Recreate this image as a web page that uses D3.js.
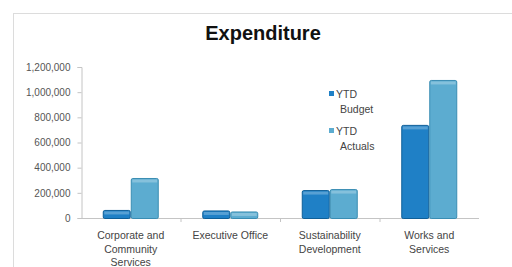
<!DOCTYPE html>
<html>
<head>
<meta charset="utf-8">
<script src="https://cdn.jsdelivr.net/npm/d3@7"></script>
<style>
  body { margin: 0; background: #fff; }
  svg { display: block; font-family: "Liberation Sans", Arial, sans-serif; }
</style>
</head>
<body>
<svg id="chart" width="512" height="267"></svg>
<script>
// chart data
const categories = [
  ["Corporate and", "Community", "Services"],
  ["Executive Office"],
  ["Sustainability", "Development"],
  ["Works and", "Services"]
];
const seriesNames = ["YTD Budget", "YTD Actuals"];
const budget = [64000, 60000, 222000, 740000];
const actuals = [318000, 52000, 230000, 1097000];
const yTicks = [0, 200000, 400000, 600000, 800000, 1000000, 1200000];

const colors = ["#1f80c6", "#5cacd0"];
const edge = ["#0f5f98", "#3a8db3"];

let svg = d3.select('#chart');

// frame
svg.append('rect')
   .attr('x', 13.5).attr('y', 13.5)
   .attr('width', 520).attr('height', 270)
   .attr('fill', 'none')
   .attr('stroke', '#dcdcdc');

svg.append('text')
   .attr('x', 263).attr('y', 40)
   .attr('text-anchor', 'middle')
   .style('font-size', '20px')
   .style('font-weight', 'bold')
   .attr('fill', '#111')
   .text('Expenditure');

let plotLeft = 81, plotRight = 479, plotTop = 67, plotBottom = 218;

let xscale = d3.scaleBand()
               .domain(d3.range(categories.length))
               .range([plotLeft, plotRight]);
let inner = d3.scaleBand()
              .domain([0, 1])
              .range([0, 56]);
let yscale = d3.scaleLinear()
               .domain([0, 1200000])
               .range([plotBottom, plotTop]);

// y axis
let yaxis = d3.axisLeft(yscale)
              .tickValues(yTicks)
              .tickSize(4)
              .tickFormat(d3.format(','));
let yg = svg.append('g')
            .attr('transform', `translate(${plotLeft + 0.5},0)`)
            .call(yaxis);
yg.select('.domain').attr('stroke', '#c4c4c4');
yg.selectAll('.tick line').attr('stroke', '#c4c4c4');
yg.selectAll('.tick text')
  .attr('x', -11)
  .attr('fill', '#555')
  .style('font-size', '10px')
  .style('font-family', '"Liberation Sans", Arial, sans-serif');

// x axis line with ticks at category boundaries
let xg = svg.append('g');
xg.append('line')
  .attr('x1', plotLeft).attr('x2', plotRight)
  .attr('y1', plotBottom + 0.5).attr('y2', plotBottom + 0.5)
  .attr('stroke', '#c4c4c4');
xg.selectAll('.bound')
  .data(d3.range(1, categories.length))
  .join('line')
  .attr('class', 'bound')
  .attr('x1', i => xscale(i) + 0.5).attr('x2', i => xscale(i) + 0.5)
  .attr('y1', plotBottom).attr('y2', plotBottom + 4)
  .attr('stroke', '#c4c4c4');

// category labels
categories.forEach((lines, i) => {
  let t = svg.append('text')
             .attr('text-anchor', 'middle')
             .attr('fill', '#444')
             .style('font-size', '10.5px');
  lines.forEach((s, j) => {
    t.append('tspan')
     .attr('x', xscale(i) + xscale.bandwidth() / 2)
     .attr('y', 239 + j * 13.5)
     .text(s);
  });
});

// bars
let series = [budget, actuals];
series.forEach((vals, s) => {
  let g = svg.append('g');
  vals.forEach((v, i) => {
    let x = xscale(i) + (xscale.bandwidth() - 56) / 2 + inner(s);
    let w = inner.bandwidth();
    let y = yscale(v);
    g.append('rect')
     .attr('x', x + 0.5).attr('y', y + 0.5)
     .attr('width', w - 1).attr('height', plotBottom - y)
     .attr('rx', 1.5)
     .attr('fill', colors[s])
     .attr('stroke', edge[s]);
    // top bevel highlight
    g.append('rect')
     .attr('x', x + 1.5).attr('y', y + 1.5)
     .attr('width', w - 3).attr('height', Math.min(3, plotBottom - y - 2))
     .attr('fill', '#fff')
     .attr('opacity', 0.25);
  });
});

// legend
let legend = svg.append('g');
let legendY = [95, 132];
seriesNames.forEach((name, s) => {
  legend.append('rect')
        .attr('x', 329).attr('y', legendY[s] - 4)
        .attr('width', 5).attr('height', 5)
        .attr('fill', colors[s]);
  let parts = name.split(' ');
  legend.append('text')
        .attr('x', 336).attr('y', legendY[s] + 3)
        .attr('fill', '#444')
        .style('font-size', '10.5px')
        .text(parts[0]);
  legend.append('text')
        .attr('x', 340).attr('y', legendY[s] + 18)
        .attr('fill', '#444')
        .style('font-size', '10.5px')
        .text(parts[1]);
});
</script>
</body>
</html>
